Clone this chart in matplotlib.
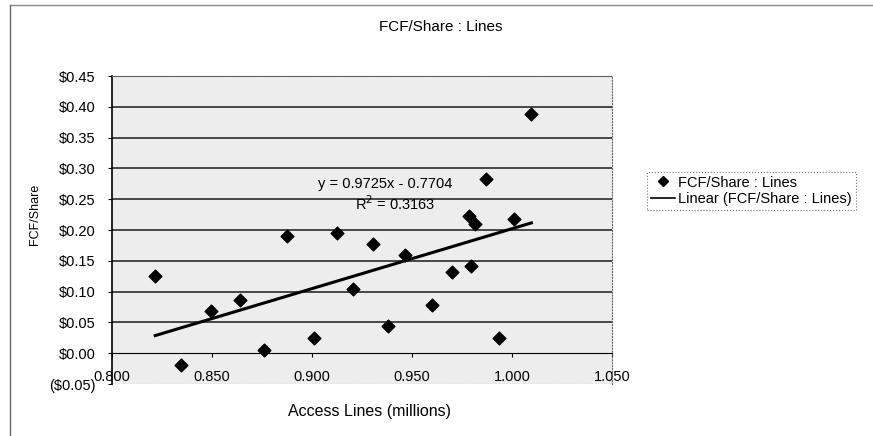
import matplotlib.pyplot as plt
from matplotlib.lines import Line2D

plt.rcParams['font.family'] = ['Liberation Sans', 'DejaVu Sans']

# Access lines (millions) vs free cash flow per share
access_lines = [0.8216, 0.8344, 0.8495, 0.8639, 0.8760, 0.8875, 0.9008,
                0.9124, 0.9207, 0.9306, 0.9381, 0.9466, 0.9598, 0.9702,
                0.9785, 0.9793, 0.9813, 0.9868, 0.9934, 1.0009, 1.0097]
fcf_share = [0.125, -0.019, 0.068, 0.086, 0.005, 0.191, 0.025,
             0.195, 0.104, 0.178, 0.044, 0.160, 0.078, 0.132,
             0.223, 0.141, 0.210, 0.283, 0.024, 0.218, 0.388]

# Linear trendline coefficients
slope = 0.9725
intercept = -0.7704
r_squared = 0.3163

x_ticks = [0.80, 0.85, 0.90, 0.95, 1.00, 1.05]
y_ticks = [-0.05, 0.0, 0.05, 0.10, 0.15, 0.20, 0.25, 0.30, 0.35, 0.40, 0.45]


def money(v):
    if v < 0:
        return '(${:.2f})'.format(-v)
    return '${:.2f}'.format(v)


fig = plt.figure(figsize=(8.73, 4.36), dpi=100)
ax = fig.add_axes([112 / 873, 1 - 384 / 436, 500 / 873, 308 / 436])
ax.set_facecolor('#ededed')

ax.set_xlim(0.80, 1.05)
ax.set_ylim(-0.05, 0.45)

# horizontal gridlines
for v in y_ticks[2:]:
    ax.axhline(v, color='#1a1a1a', lw=1.1, zorder=1)
ax.axhline(-0.05, color='#777777', lw=0.8, ls=':', zorder=1)

ax.scatter(access_lines, fcf_share, marker='D', s=42, color='black',
           zorder=4, label='FCF/Share : Lines')

x0, x1 = min(access_lines), max(access_lines)
ax.plot([x0, x1], [slope * x0 + intercept, slope * x1 + intercept],
        color='black', lw=2.2, zorder=3)

ax.text(0.9365, 0.275, 'y = {:.4f}x - {:.4f}'.format(slope, -intercept),
        ha='center', va='center', fontsize=10.5)
ax.text(0.9415, 0.242, 'R$^2$ = {:.4f}'.format(r_squared),
        ha='center', va='center', fontsize=10.5)

# axes: x axis crosses at zero
ax.spines['bottom'].set_position(('data', 0))
ax.spines['bottom'].set_color('black')
ax.spines['left'].set_color('black')
ax.spines['left'].set_linewidth(1.2)
for s in ['top', 'right']:
    ax.spines[s].set_color('#666666')
    ax.spines[s].set_linestyle(':')

ax.set_xticks(x_ticks)
ax.set_xticklabels(['{:.3f}'.format(v) for v in x_ticks], fontsize=10.5)
ax.set_yticks(y_ticks)
ax.set_yticklabels([money(v) for v in y_ticks], fontsize=10.5)
ax.tick_params(axis='x', direction='out', length=3, pad=9)
ax.tick_params(axis='y', direction='out', length=3, pad=9)

fig.text(441 / 873, 1 - 27 / 436, 'FCF/Share : Lines',
         ha='center', va='center', fontsize=11)
fig.text(35 / 873, 1 - 214 / 436, 'FCF/Share', rotation=90,
         ha='center', va='center', fontsize=9)
fig.text(370 / 873, 1 - 411 / 436, 'Access Lines (millions)',
         ha='center', va='center', fontsize=11.5)

handles = [Line2D([], [], marker='D', color='black', ls='none', markersize=5.5),
           Line2D([], [], color='black', lw=1.2)]
leg = fig.legend(handles, ['FCF/Share : Lines', 'Linear (FCF/Share : Lines)'],
                 loc='center left', bbox_to_anchor=(647 / 873, 1 - 191 / 436),
                 fontsize=10.5, frameon=True, fancybox=False, handlelength=1.7,
                 handletextpad=0.2, borderpad=0.25, labelspacing=0.2,
                 borderaxespad=0)
leg.get_frame().set_edgecolor('#555555')
leg.get_frame().set_linestyle(':')
leg.get_frame().set_linewidth(0.8)

# outer chart frame (top and left edges)
fig.add_artist(Line2D([10 / 873, 10 / 873], [0, 1 - 5 / 436],
                      color='#666666', lw=1.0))
fig.add_artist(Line2D([10 / 873, 1], [1 - 5 / 436, 1 - 5 / 436],
                      color='#888888', lw=1.0))

fig.savefig('out.png', dpi=100)
